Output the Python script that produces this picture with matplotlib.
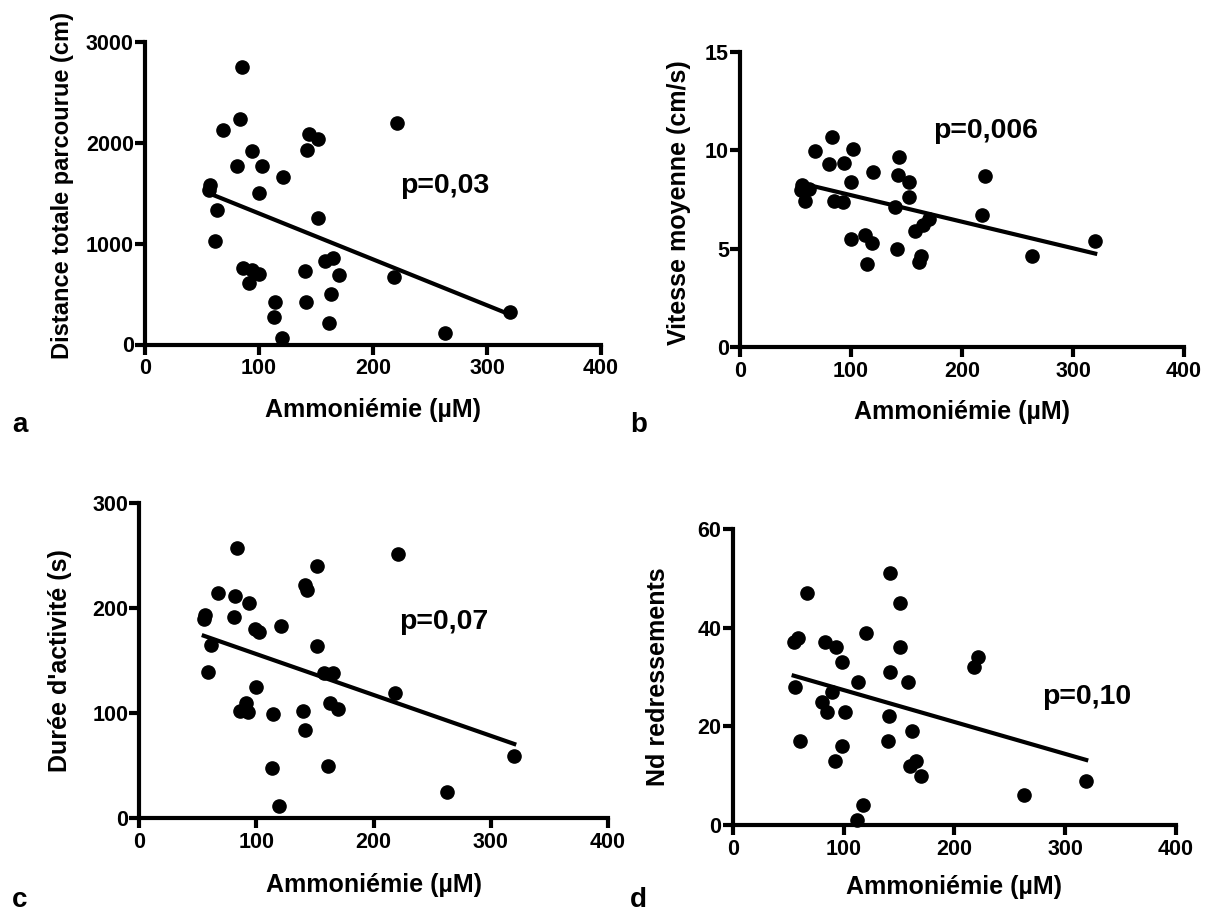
import numpy as np
import matplotlib
matplotlib.use("Agg")
import matplotlib.pyplot as plt

plt.rcParams['font.family'] = ['Liberation Sans', 'DejaVu Sans']
plt.rcParams['font.weight'] = 'bold'

# panel a: distance totale parcourue
a_x = [85, 83, 68, 221, 144, 152, 142, 94, 81, 103, 121, 57, 56, 100, 63, 152, 61,
       165, 158, 86, 94, 100, 140, 170, 218, 91, 163, 114, 141, 113, 161, 320, 263, 120]
a_y = [2750, 2235, 2130, 2200, 2090, 2040, 1930, 1920, 1775, 1775, 1660, 1585, 1530,
       1505, 1330, 1250, 1030, 855, 830, 760, 740, 700, 730, 685, 665, 610, 505, 420,
       420, 275, 215, 320, 115, 60]

# panel b: vitesse moyenne
b_x = [83, 68, 102, 80, 94, 143, 120, 142, 221, 152, 100, 56, 55, 62, 152, 59, 85,
       93, 140, 170, 165, 218, 158, 100, 113, 119, 141, 320, 263, 163, 161, 114]
b_y = [10.65, 9.95, 10.05, 9.3, 9.35, 9.65, 8.9, 8.75, 8.7, 8.4, 8.4, 8.25, 8.0, 8.05,
       7.6, 7.4, 7.4, 7.35, 7.1, 6.5, 6.2, 6.7, 5.9, 5.5, 5.7, 5.3, 5.0, 5.4, 4.6, 4.6,
       4.3, 4.2]

# panel c: duree d'activite
c_x = [83, 221, 152, 141, 143, 67, 82, 94, 56, 55, 81, 99, 102, 121, 61, 152, 158,
       165, 59, 218, 100, 91, 86, 93, 114, 140, 163, 170, 141, 113, 161, 320, 263, 119]
c_y = [257, 251, 240, 222, 217, 214, 211, 205, 193, 190, 191, 180, 177, 183, 165, 164,
       138, 138, 139, 119, 125, 110, 102, 101, 99, 102, 110, 104, 84, 48, 50, 59, 25, 11]

# panel d: nombre de redressements
d_x = [142, 67, 151, 120, 59, 55, 83, 93, 151, 221, 218, 99, 142, 113, 158, 56, 90,
       81, 85, 101, 141, 162, 61, 140, 99, 92, 165, 160, 170, 319, 263, 118, 112]
d_y = [51, 47, 45, 39, 38, 37, 37, 36, 36, 34, 32, 33, 31, 29, 29, 28, 27, 25, 23, 23,
       22, 19, 17, 17, 16, 13, 13, 12, 10, 9, 6, 4, 1]

x_label = "Ammoniémie (µM)"
x_ticks = [0, 100, 200, 300, 400]

panels = [
    # x, y, ylabel, yticks, p text, p pos, rect (px), ylabel pos/size, xlabel y, letter
    (a_x, a_y, "Distance totale parcourue (cm)", [0, 1000, 2000, 3000], "p=0,03",
     (224, 1568), (145, 344.5, 601, 42), (-0.182, 0.525, 17), -0.215, "a", (12, 425)),
    (b_x, b_y, "Vitesse moyenne (cm/s)", [0, 5, 10, 15], "p=0,006",
     (174, 10.95), (740, 347, 1184, 51.7), (-0.137, 0.49, 18), -0.22, "b", (630, 425)),
    (c_x, c_y, "Durée d'activité (s)", [0, 100, 200, 300], "p=0,07",
     (222, 187), (139.3, 818, 608, 503), (-0.169, 0.5, 18), -0.213, "c", (12, 900)),
    (d_x, d_y, "Nd redressements", [0, 20, 40, 60], "p=0,10",
     (279, 26), (732.7, 825, 1176, 529), (-0.168, 0.5, 18), -0.209, "d", (630, 900)),
]

W, H = 1205, 911
fig = plt.figure(figsize=(W / 100, H / 100), dpi=100)

for xs, ys, ylab, yt, ptxt, ppos, rect, ylpos, xly, letter, lpos in panels:
    l, b, r, t = rect
    ax = fig.add_axes([l / W, (H - b) / H, (r - l) / W, (b - t) / H])
    xs = np.array(xs, dtype=float)
    ys = np.array(ys, dtype=float)
    ax.plot(xs, ys, 'o', color='black', markersize=9.5, clip_on=False, zorder=5)

    slope, inter = np.polyfit(xs, ys, 1)
    lx = np.array([xs.min(), xs.max()])
    ax.plot(lx, slope * lx + inter, color='black', linewidth=3, zorder=4)

    ax.set_xlim(0, 400)
    ax.set_ylim(0, yt[-1])
    ax.set_xticks(x_ticks)
    ax.set_yticks(yt)
    for side in ('top', 'right'):
        ax.spines[side].set_visible(False)
    for side in ('left', 'bottom'):
        ax.spines[side].set_linewidth(3)
    ax.tick_params(width=3, length=7, labelsize=15.5, direction='out')
    ax.tick_params(axis='y', pad=1)
    ax.tick_params(axis='x', pad=3)
    for lab in ax.get_xticklabels() + ax.get_yticklabels():
        lab.set_fontweight('bold')

    ax.set_xlabel(x_label, fontsize=18, fontweight='bold')
    ax.xaxis.set_label_coords(0.5, xly)
    ax.xaxis.label.set_va('center')
    ax.set_ylabel(ylab, fontsize=ylpos[2], fontweight='bold')
    ax.yaxis.set_label_coords(ylpos[0], ylpos[1])
    ax.yaxis.label.set_va('center')

    ax.text(ppos[0], ppos[1], ptxt, fontsize=20.5, fontweight='bold',
            ha='left', va='center')
    fig.text(lpos[0] / W, 1 - lpos[1] / H, letter, fontsize=20, fontweight='bold',
             ha='left', va='center')

fig.savefig("out.png", dpi=100, facecolor='white')
